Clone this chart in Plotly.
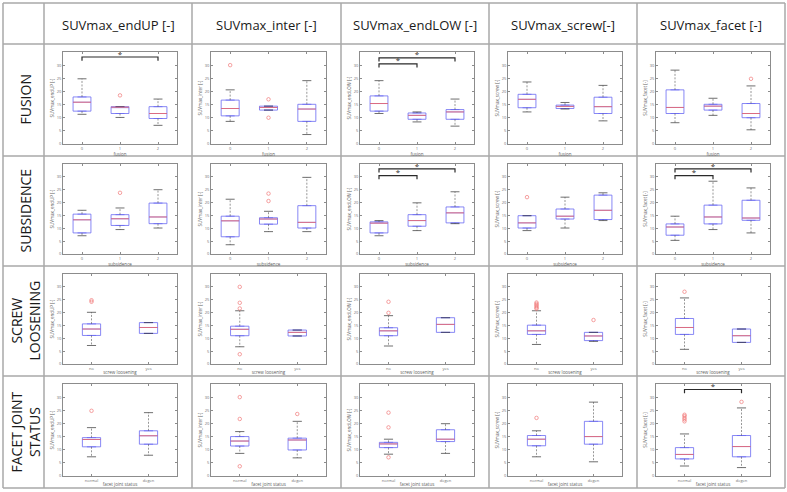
import plotly.graph_objects as go

W, H = 787, 492

# ---------------- labels ----------------
header_labels = ["SUVmax_endUP [-]", "SUVmax_inter [-]", "SUVmax_endLOW [-]",
                 "SUVmax_screw[-]", "SUVmax_facet [-]"]
y_titles = ["SUVmax_endUP [-]", "SUVmax_inter [-]", "SUVmax_endLOW [-]",
            "SUVmax_screw [-]", "SUVmax_facet [-]"]
row_labels = ["FUSION", "SUBSIDENCE", "SCREW<br>LOOSENING", "FACET JOINT<br>STATUS"]
x_titles = ["fusion", "subsidence", "screw loosening", "facet joint status"]
group_labels = [["0", "1", "2"], ["0", "1", "2"], ["no", "yes"], ["normal", "degen"]]
y_tick_values = [0, 5, 10, 15, 20, 25, 30]

# ---------------- data (box statistics) ----------------
# row 1: fusion
fusion_endUP = dict(lo=[11.3, 10.1, 7.1], q1=[12.5, 11.6, 9.7], med=[15.9, 14.0, 11.6],
                    q3=[17.9, 14.2, 14.2], hi=[24.8, 14.2, 17.1], out=[[], [18.5], []])
fusion_inter = dict(lo=[8.6, 12.9, 3.6], q1=[10.7, 12.9, 8.6], med=[13.5, 13.9, 13.3],
                    q3=[16.7, 14.4, 15.1], hi=[20.6, 14.4, 24.1], out=[[30.0], [17.0, 10.0], []])
fusion_endLOW = dict(lo=[11.6, 8.4, 6.8], q1=[12.5, 9.4, 9.4], med=[15.4, 10.9, 12.2],
                     q3=[18.3, 11.8, 13.1], hi=[24.1, 12.2, 17.1], out=[[], [], []])
fusion_screw = dict(lo=[12.2, 13.3, 8.8], q1=[13.8, 13.5, 11.6], med=[17.0, 14.3, 14.2],
                    q3=[18.9, 14.8, 17.8], hi=[23.6, 15.8, 22.3], out=[[], [], []])
fusion_facet = dict(lo=[8.1, 10.9, 5.4], q1=[11.6, 12.9, 10.0], med=[13.9, 14.4, 11.6],
                    q3=[20.6, 15.1, 15.4], hi=[28.1, 17.4, 22.1], out=[[], [], [24.8]])
# row 2: subsidence
subsidence_endUP = dict(lo=[7.1, 9.5, 10.1], q1=[8.2, 11.1, 11.8], med=[13.3, 13.7, 14.4],
                        q3=[15.5, 15.3, 19.8], hi=[17.0, 17.9, 25.0], out=[[], [23.8], []])
subsidence_inter = dict(lo=[3.6, 8.7, 8.7], q1=[6.7, 11.6, 10.1], med=[12.9, 13.6, 12.3],
                        q3=[14.7, 14.1, 18.8], hi=[21.3, 16.6, 29.8], out=[[], [23.5, 20.6], []])
subsidence_endLOW = dict(lo=[7.1, 9.1, 11.8], q1=[8.2, 10.8, 12.1], med=[12.0, 13.0, 16.0],
                         q3=[12.5, 15.3, 18.3], hi=[13.0, 19.9, 24.2], out=[[], [], []])
subsidence_screw = dict(lo=[9.1, 10.1, 13.0], q1=[10.1, 13.6, 13.4], med=[12.1, 14.7, 17.0],
                        q3=[14.9, 17.5, 22.9], hi=[14.9, 22.1, 23.8], out=[[22.1], [], []])
subsidence_facet = dict(lo=[5.3, 9.5, 8.2], q1=[7.3, 11.7, 13.1], med=[10.5, 14.4, 14.0],
                        q3=[11.7, 19.0, 20.9], hi=[14.7, 28.3, 25.7], out=[[], [], []])
# row 3: screw loosening
loosening_endUP = dict(lo=[7.2, 11.9], q1=[11.1, 11.9], med=[13.6, 14.2],
                       q3=[15.6, 16.1], hi=[20.1, 16.1], out=[[24.8, 24.2], []])
loosening_inter = dict(lo=[6.7, 10.9], q1=[11.0, 10.9], med=[13.5, 12.3],
                       q3=[14.7, 13.2], hi=[20.7, 13.2], out=[[30.0, 23.8, 21.6, 3.8], []])
loosening_endLOW = dict(lo=[7.0, 12.3], q1=[11.0, 12.3], med=[12.9, 15.4],
                        q3=[14.1, 18.0], hi=[18.8, 18.0], out=[[24.2, 19.9], []])
loosening_screw = dict(lo=[7.6, 8.8], q1=[11.5, 9.1], med=[12.9, 10.9],
                       q3=[15.1, 12.3], hi=[20.7, 12.3],
                       out=[[23.9, 23.4, 22.9, 22.4, 21.9, 21.5], [17.1]])
loosening_facet = dict(lo=[5.7, 8.4], q1=[11.5, 8.4], med=[14.2, 11.0],
                       q3=[17.7, 13.6], hi=[25.7, 13.6], out=[[28.1], []])
# row 4: facet joint status
facetjoint_endUP = dict(lo=[7.3, 7.9], q1=[11.1, 12.1], med=[13.9, 15.3],
                        q3=[14.6, 17.2], hi=[18.4, 24.1], out=[[24.8], []])
facetjoint_inter = dict(lo=[8.6, 6.9], q1=[11.4, 9.9], med=[13.3, 13.7],
                        q3=[15.0, 14.4], hi=[16.9, 20.8], out=[[30.0, 21.7, 3.7], [23.6]])
facetjoint_endLOW = dict(lo=[8.3, 8.6], q1=[10.8, 13.1], med=[12.2, 14.0],
                         q3=[12.8, 17.6], hi=[14.0, 19.9], out=[[24.1, 18.5, 7.1], []])
facetjoint_screw = dict(lo=[7.3, 5.4], q1=[11.5, 12.1], med=[14.0, 15.0],
                        q3=[15.4, 20.8], hi=[17.2, 28.1], out=[[22.1], []])
facetjoint_facet = dict(lo=[3.8, 3.2], q1=[6.5, 7.3], med=[8.2, 11.2],
                        q3=[10.8, 15.4], hi=[16.0, 25.9],
                        out=[[23.3, 22.8, 22.1, 21.5, 20.8], [28.2]])

cells = [
    [fusion_endUP, fusion_inter, fusion_endLOW, fusion_screw, fusion_facet],
    [subsidence_endUP, subsidence_inter, subsidence_endLOW, subsidence_screw, subsidence_facet],
    [loosening_endUP, loosening_inter, loosening_endLOW, loosening_screw, loosening_facet],
    [facetjoint_endUP, facetjoint_inter, facetjoint_endLOW, facetjoint_screw, facetjoint_facet],
]

# significance brackets (row, column, from group, to group, bracket height)
sig_row = [0, 0, 0, 1, 1, 1, 1, 3]
sig_col = [0, 2, 2, 2, 2, 4, 4, 4]
sig_from = [1, 1, 1, 1, 1, 1, 1, 1]
sig_to = [3, 3, 2, 3, 2, 3, 2, 2]
sig_y = [33.1, 32.8, 30.5, 33.1, 30.5, 33.1, 30.5, 32.9]

# ---------------- layout geometry (pixels) ----------------
col_edges = [44, 192, 341, 489, 637, 785]
row_edges = [44, 156, 266, 376, 488]
table_left, table_top = 3, 3

BOX_C = "#6a6af2"
MED_C = "#f06464"
WHISK_C = "#505050"
OUT_C = "#f07878"
FRAME_C = "#8c8c8c"
GRID_LINE_C = "#a8a8a8"
FONT = "Open Sans"

fig = go.Figure()
layout_axes = {}

def px_x(p):
    return p / W

def px_y(p):
    return 1 - p / H

for r in range(4):
    for c in range(5):
        k = r * 5 + c
        sfx = "" if k == 0 else str(k + 1)
        xa, ya = "x" + sfx, "y" + sfx
        d = cells[r][c]
        n = len(d["med"])
        pos = list(range(1, n + 1))
        bw = 0.47 if n == 3 else 0.32

        # box (library box trace, fences collapsed onto the box, whiskers drawn below)
        fig.add_trace(go.Box(
            x=pos, q1=d["q1"], median=d["med"], q3=d["q3"],
            lowerfence=d["q1"], upperfence=d["q3"], width=bw,
            line=dict(color=BOX_C, width=0.8), fillcolor="rgba(0,0,0,0)",
            boxpoints=False, xaxis=xa, yaxis=ya, showlegend=False, hoverinfo="skip"))

        # whiskers (dashed)
        wx, wy = [], []
        for i in range(n):
            wx += [pos[i], pos[i], None, pos[i], pos[i], None]
            wy += [d["q3"][i], d["hi"][i], None, d["q1"][i], d["lo"][i], None]
        fig.add_trace(go.Scatter(x=wx, y=wy, mode="lines",
                                 line=dict(color=WHISK_C, width=0.6, dash="2px,1.5px"),
                                 xaxis=xa, yaxis=ya, showlegend=False, hoverinfo="skip"))
        # caps
        cx, cy = [], []
        for i in range(n):
            cx += [pos[i] - bw / 4, pos[i] + bw / 4, None, pos[i] - bw / 4, pos[i] + bw / 4, None]
            cy += [d["hi"][i], d["hi"][i], None, d["lo"][i], d["lo"][i], None]
        fig.add_trace(go.Scatter(x=cx, y=cy, mode="lines",
                                 line=dict(color="#303030", width=0.7),
                                 xaxis=xa, yaxis=ya, showlegend=False, hoverinfo="skip"))
        # medians
        mx, my = [], []
        for i in range(n):
            mx += [pos[i] - bw / 2, pos[i] + bw / 2, None]
            my += [d["med"][i], d["med"][i], None]
        fig.add_trace(go.Scatter(x=mx, y=my, mode="lines",
                                 line=dict(color=MED_C, width=0.8),
                                 xaxis=xa, yaxis=ya, showlegend=False, hoverinfo="skip"))
        # outliers
        ox, oy = [], []
        for i in range(n):
            for v in d["out"][i]:
                ox.append(pos[i])
                oy.append(v)
        if ox:
            fig.add_trace(go.Scatter(x=ox, y=oy, mode="markers",
                                     marker=dict(symbol="circle-open", size=3.5,
                                                 color=OUT_C, line=dict(width=0.7)),
                                     xaxis=xa, yaxis=ya, showlegend=False, hoverinfo="skip"))

        x0 = col_edges[c] + 19
        x1 = col_edges[c + 1] - 15
        y0 = row_edges[r] + 8
        y1 = row_edges[r + 1] - 12
        axis_common = dict(showline=True, linecolor=FRAME_C, linewidth=0.8, mirror="ticks",
                           ticks="inside", ticklen=2, tickwidth=0.6, tickcolor=FRAME_C,
                           showgrid=False, zeroline=False, automargin=False,
                           tickfont=dict(size=4, color="#707070", family=FONT))
        layout_axes["xaxis" + sfx] = dict(
            axis_common, domain=[px_x(x0), px_x(x1)], anchor=ya,
            range=[0.5, n + 0.5], tickvals=pos, ticktext=group_labels[r],
            title=dict(text=x_titles[r], font=dict(size=4.5, color="#606060", family=FONT),
                       standoff=1))
        layout_axes["yaxis" + sfx] = dict(
            axis_common, domain=[px_y(y1), px_y(y0)], anchor=xa,
            range=[0, 35], tickvals=y_tick_values,
            title=dict(text=y_titles[c], font=dict(size=4.5, color="#606060", family=FONT),
                       standoff=2))

# significance brackets
for j in range(len(sig_row)):
    k = sig_row[j] * 5 + sig_col[j]
    sfx = "" if k == 0 else str(k + 1)
    a, b, h = sig_from[j], sig_to[j], sig_y[j]
    fig.add_trace(go.Scatter(x=[a, a, b, b], y=[h - 1.4, h, h, h - 1.4], mode="lines",
                             line=dict(color="#2a2a2a", width=1.2),
                             xaxis="x" + sfx, yaxis="y" + sfx,
                             showlegend=False, hoverinfo="skip"))
    fig.add_trace(go.Scatter(x=[(a + b) / 2], y=[h + 0.9], mode="text", text=["*"],
                             textfont=dict(size=8, color="#2a2a2a", family=FONT),
                             xaxis="x" + sfx, yaxis="y" + sfx,
                             showlegend=False, hoverinfo="skip"))

# table lines
shapes = []
line_style = dict(color=GRID_LINE_C, width=1.5)
for xe in [table_left] + col_edges:
    shapes.append(dict(type="line", xref="paper", yref="paper",
                       x0=px_x(xe), x1=px_x(xe), y0=px_y(table_top), y1=px_y(row_edges[-1]),
                       line=line_style))
for ye in [table_top] + row_edges:
    shapes.append(dict(type="line", xref="paper", yref="paper",
                       x0=px_x(table_left), x1=px_x(col_edges[-1]), y0=px_y(ye), y1=px_y(ye),
                       line=line_style))

annotations = []
for c in range(5):
    annotations.append(dict(text=header_labels[c], xref="paper", yref="paper",
                            x=px_x((col_edges[c] + col_edges[c + 1]) / 2),
                            y=px_y((table_top + row_edges[0]) / 2 + 1),
                            showarrow=False, xanchor="center", yanchor="middle",
                            font=dict(size=13, color="#1a1a1a", family=FONT)))
for r in range(4):
    annotations.append(dict(text=row_labels[r], xref="paper", yref="paper",
                            x=px_x((table_left + col_edges[0]) / 2 + 1),
                            y=px_y((row_edges[r] + row_edges[r + 1]) / 2),
                            showarrow=False, xanchor="center", yanchor="middle",
                            textangle=-90,
                            font=dict(size=14, color="#1a1a1a", family=FONT)))

fig.update_layout(width=W, height=H, margin=dict(l=0, r=0, t=0, b=0),
                  paper_bgcolor="white", plot_bgcolor="white",
                  shapes=shapes, annotations=annotations, showlegend=False,
                  **layout_axes)

fig.write_html("out.html", config={"displayModeBar": False},
               post_script="document.body.style.margin='0px';")
